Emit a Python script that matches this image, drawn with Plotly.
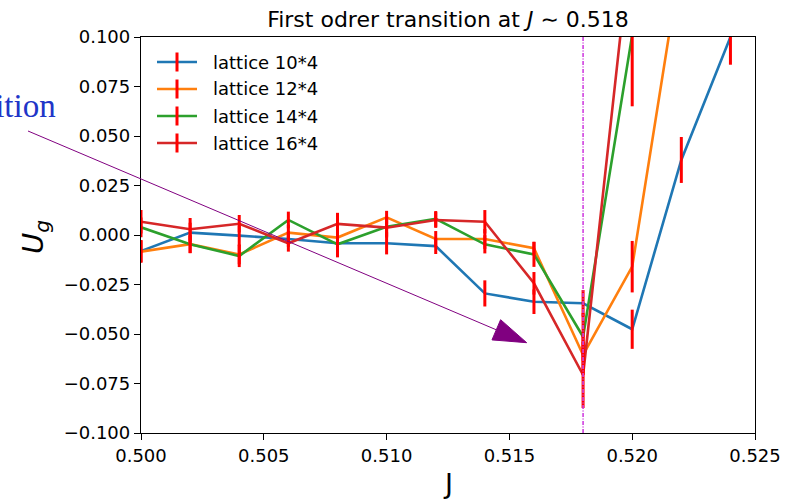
import plotly.graph_objects as go

# Coupling values and measured U_g for each lattice size
J = [0.500, 0.502, 0.504, 0.506, 0.508, 0.510, 0.512, 0.514, 0.516, 0.518, 0.520, 0.522, 0.524]

labels = ["lattice 10*4", "lattice 12*4", "lattice 14*4", "lattice 16*4"]
colors = ["#1f77b4", "#ff7f0e", "#2ca02c", "#d62728"]

ug_10 = [-0.0081, 0.0012, -0.0003, -0.0020, -0.0042, -0.0042, -0.0056, -0.0295, -0.0337, -0.0345, -0.0476, 0.0379, 0.1000]
err_10 = [0.0056, 0.0050, 0.0050, 0.0040, 0.0066, 0.0056, 0.0040, 0.0066, 0.0062, 0.0067, 0.0099, 0.0116, 0.0140]

ug_12 = [-0.0084, -0.0046, -0.0098, 0.0012, -0.0013, 0.0089, -0.0020, -0.0020, -0.0067, -0.0606, -0.0160, 0.1400]
err_12 = [0.0056, 0.0045, 0.0050, 0.0040, 0.0050, 0.0033, 0.0040, 0.0050, 0.0033, 0.0100, 0.0130, 0.0150]

ug_14 = [0.0039, -0.0047, -0.0106, 0.0076, -0.0047, 0.0042, 0.0081, -0.0047, -0.0098, -0.0514, 0.1010]
err_14 = [0.0050, 0.0045, 0.0056, 0.0042, 0.0066, 0.0050, 0.0040, 0.0046, 0.0063, 0.0120, 0.0360]

ug_16 = [0.0067, 0.0029, 0.0057, -0.0042, 0.0056, 0.0037, 0.0076, 0.0067, -0.0244, -0.0707, 0.1550]
err_16 = [0.0059, 0.0057, 0.0044, 0.0042, 0.0056, 0.0050, 0.0040, 0.0059, 0.0057, 0.0167, 0.0400]

series = [(ug_10, err_10), (ug_12, err_12), (ug_14, err_14), (ug_16, err_16)]

J_transition = 0.518
x_ticks = [0.500, 0.505, 0.510, 0.515, 0.520, 0.525]
y_ticks = [-0.100, -0.075, -0.050, -0.025, 0.000, 0.025, 0.050, 0.075, 0.100]

W, H = 795, 501
ML, MR, MT, MB = 141, 40, 37, 68
PW, PH = W - ML - MR, H - MT - MB
FONT = "DejaVu Sans"


def px(x):
    return (x - ML) / PW


def py(y):
    return (H - MB - y) / PH


fig = go.Figure()

# curves first
for (vals, _), c in zip(series, colors):
    fig.add_trace(go.Scatter(x=J[:len(vals)], y=vals, mode="lines",
                             line=dict(color=c, width=2.6), showlegend=False,
                             hoverinfo="skip"))

# red error bars drawn above all curves
for vals, errs in series:
    fig.add_trace(go.Scatter(x=J[:len(vals)], y=vals, mode="markers",
                             marker=dict(size=1, opacity=0), showlegend=False,
                             error_y=dict(type="data", array=errs, visible=True,
                                          color="#ff0000", thickness=3, width=0),
                             hoverinfo="skip"))

shapes = []
annotations = []

# transition marker
shapes.append(dict(type="line", xref="x", yref="paper", x0=J_transition, x1=J_transition,
                   y0=0, y1=1, layer="above",
                   line=dict(color="#d040e0", width=1.6, dash="4px,1.5px,1px,1.5px")))

# legend
leg_y = [62, 89, 116, 143]
for lab, c, yy in zip(labels, colors, leg_y):
    shapes.append(dict(type="line", xref="paper", yref="paper", x0=px(157), x1=px(197),
                       y0=py(yy), y1=py(yy), line=dict(color=c, width=2.6)))
    shapes.append(dict(type="line", xref="paper", yref="paper", x0=px(177), x1=px(177),
                       y0=py(yy - 9.5), y1=py(yy + 9.5), line=dict(color="#ff0000", width=3)))
    annotations.append(dict(xref="paper", yref="paper", x=px(211), y=py(yy), text=lab,
                            showarrow=False, xanchor="left", yanchor="middle",
                            font=dict(family=FONT, size=18, color="black")))

# annotation arrow pointing at the transition dip
tail = (28, 131)
tip = (526.7, 342.7)
base = (496.3, 329.8)
half = (4.3, -10.1)
shapes.append(dict(type="line", xref="paper", yref="paper", x0=px(tail[0]), y0=py(tail[1]),
                   x1=px(base[0]), y1=py(base[1]), line=dict(color="#800080", width=1)))
p1 = (base[0] + half[0], base[1] + half[1])
p2 = (base[0] - half[0], base[1] - half[1])
path = "M {:.5f} {:.5f} L {:.5f} {:.5f} L {:.5f} {:.5f} Z".format(
    px(tip[0]), py(tip[1]), px(p1[0]), py(p1[1]), px(p2[0]), py(p2[1]))
shapes.append(dict(type="path", xref="paper", yref="paper", path=path,
                   fillcolor="#800080", line=dict(color="#800080", width=1)))

annotations.append(dict(xref="paper", yref="paper", x=px(58), y=py(106), text="transition",
                        showarrow=False, xanchor="right", yanchor="middle",
                        font=dict(family="Liberation Serif", size=33, color="#2035c8")))

# axis labels
annotations.append(dict(xref="paper", yref="paper", x=0.5, y=py(483), text="J",
                        showarrow=False, xanchor="center", yanchor="middle",
                        font=dict(family=FONT, size=27, color="black")))
annotations.append(dict(xref="paper", yref="paper", x=px(35), y=py(237),
                        text="<i>U<sub>g</sub></i>", textangle=-90,
                        showarrow=False, xanchor="center", yanchor="middle",
                        font=dict(family=FONT, size=29, color="black")))

fig.update_layout(
    width=W, height=H,
    margin=dict(l=ML, r=MR, t=MT, b=MB),
    paper_bgcolor="white", plot_bgcolor="white",
    title=dict(text="First odrer transition at <i>J</i> ∼ 0.518", xref="paper", x=0.5,
               xanchor="center", y=1 - 19 / H, yanchor="middle",
               font=dict(family=FONT, size=22, color="black")),
    shapes=shapes, annotations=annotations,
    font=dict(family=FONT, size=18, color="black"),
)

axis_common = dict(showline=True, linecolor="black", linewidth=1.3, mirror=True,
                   ticks="outside", ticklen=6, tickwidth=1.3, tickcolor="black",
                   showgrid=False, zeroline=False,
                   tickfont=dict(family=FONT, size=18, color="black"))
fig.update_xaxes(range=[0.500, 0.525], tickvals=x_ticks,
                 ticktext=["{:.3f}".format(v) for v in x_ticks], **axis_common)
fig.update_yaxes(range=[-0.100, 0.100], tickvals=y_ticks,
                 ticktext=["{:.3f}".format(v).replace("-", "\u2212") for v in y_ticks],
                 **axis_common)

fig.write_html("out.html")
